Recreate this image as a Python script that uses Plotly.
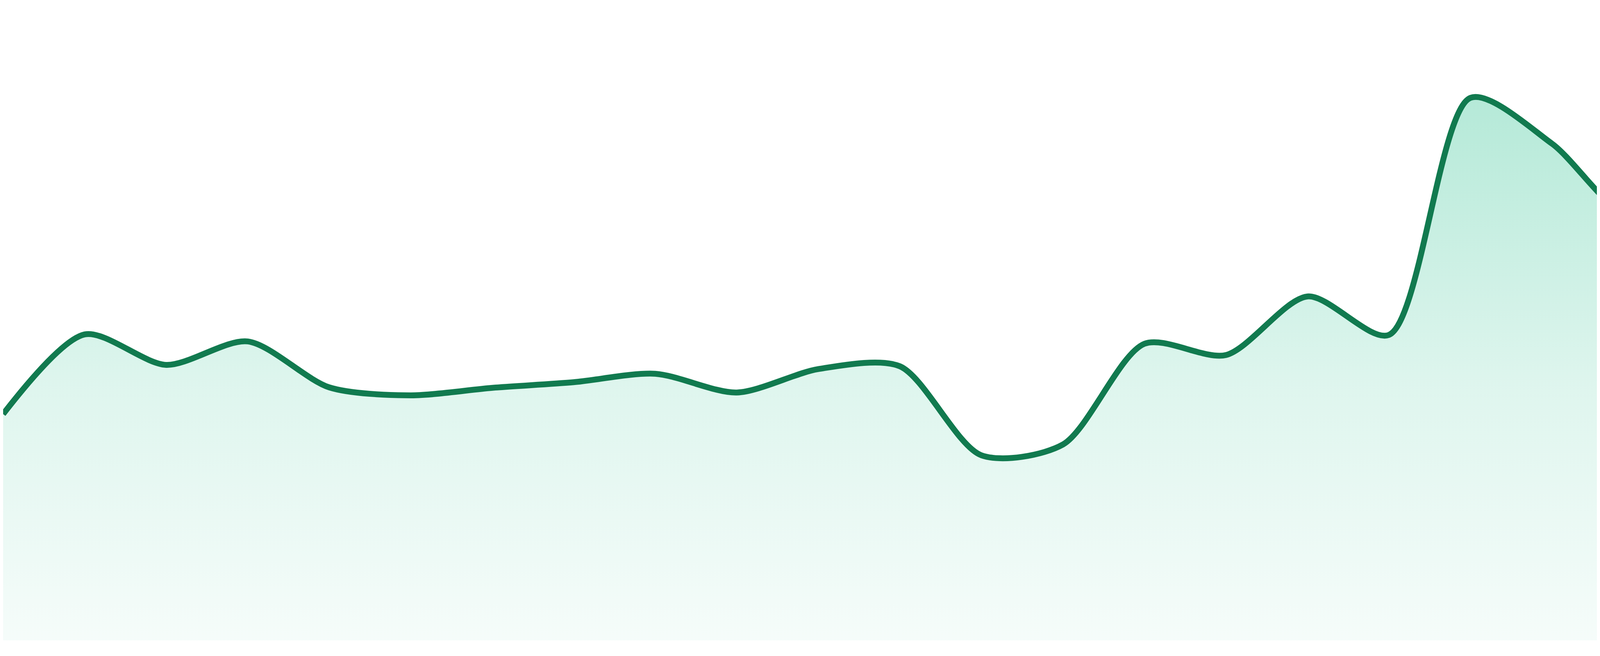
import plotly.graph_objects as go

# sample index along the x axis
idx = list(range(24))
# sample values (0 = bottom edge of the filled area)
vals = [48.3, 65.3, 58.8, 63.8, 54.0, 52.3, 53.9, 55.1, 56.9, 52.9, 57.9, 58.5,
        39.5, 41.8, 63.3, 60.9, 73.4, 65.2, 115.8, 106.0, 90.3, 109.2, 119.3, 112.7]

LINE = "#117a4f"

fig = go.Figure()
fig.add_trace(go.Scatter(
    x=idx, y=vals,
    mode="lines",
    line=dict(color=LINE, width=15, shape="spline", smoothing=0.8),
    fill="tozeroy",
    fillgradient=dict(
        type="vertical",
        colorscale=[
            [0, "rgba(16,185,129,0.04)"],
            [0.45, "rgba(16,185,129,0.135)"],
            [1, "rgba(16,185,129,0.32)"],
        ],
    ),
    hoverinfo="skip",
))

fig.update_xaxes(visible=False, range=[0, 23])
fig.update_yaxes(visible=False, range=[-4, 136])

fig.update_layout(
    width=4800, height=1680,
    margin=dict(l=0, r=0, t=0, b=0),
    paper_bgcolor="white",
    plot_bgcolor="white",
    showlegend=False,
)

fig.write_html("out.html")
